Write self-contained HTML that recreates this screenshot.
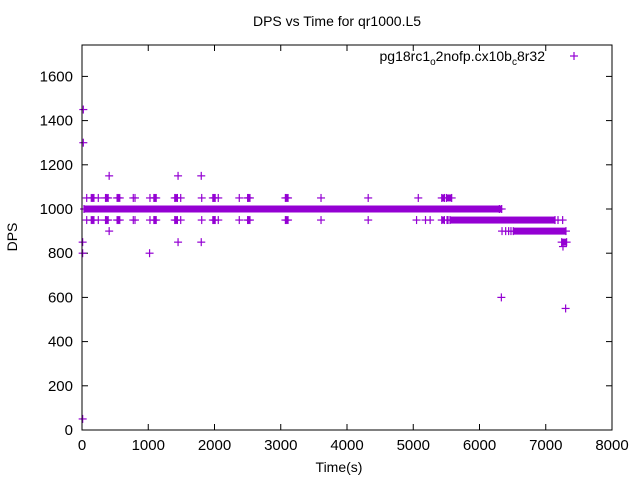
<!DOCTYPE html>
<html><head><meta charset="utf-8"><style>
body{margin:0;background:#fff}
svg{display:block;font-family:"Liberation Sans",sans-serif}
</style></head><body>
<svg id="c" width="640" height="480">
<rect x="0" y="0" width="640" height="480" fill="#fff"/>
<text x="337" y="26" font-size="14" text-anchor="middle">DPS vs Time for qr1000.L5</text>
<text x="339" y="472" font-size="14" text-anchor="middle">Time(s)</text>
<text x="0" y="0" font-size="14" text-anchor="middle" transform="translate(17,237) rotate(-90)">DPS</text>
<g id="axes"></g>
<g id="marks"></g>
<text x="545" y="61" font-size="14" text-anchor="end">pg18rc1<tspan font-size="10" dy="4">o</tspan><tspan dy="-4">2nofp.cx10b</tspan><tspan font-size="10" dy="4">c</tspan><tspan dy="-4">8r32</tspan></text>
<rect x="82" y="45" width="530" height="385" fill="none" stroke="#000" stroke-width="1"/>
</svg>
<script>
const xTicks=[0,1000,2000,3000,4000,5000,6000,7000,8000];
const yTicks=[0,200,400,600,800,1000,1200,1400,1600];
const xTickLabels=["0","1000","2000","3000","4000","5000","6000","7000","8000"];
const yTickLabels=["0","200","400","600","800","1000","1200","1400","1600"];
// continuous runs: start time, end time, dps
const runStart=[30,5555,6510,7240,5430,5500,5430,5510,
 140,355,530,1085,1400,1975,2500,3070,140,355,530,1085,1400,1975,2500,3070];
const runEnd=[6335,7140,7305,7315,5470,5580,5470,5525,
 180,395,570,1120,1440,2010,2535,3110,180,395,570,1120,1440,2010,2535,3110];
const runValue=[1000,950,900,850,1050,1050,950,950,
 1050,1050,1050,1050,1050,1050,1050,1050,950,950,950,950,950,950,950,950];
// individual points
const ptTime=[71,161,246,373,548,774,800,1026,1102,1419,1490,1807,1992,2057,2374,2516,3090,3608,4320,5076,
 71,161,246,373,548,774,800,1026,1102,1419,1490,1807,1992,2057,2374,2516,3090,3608,4320,5050,5185,5255,
 410,1450,1800,410,1450,1800,1020,20,20,10,10,10,6340,6395,6440,6475,6330,7300,6300,7260,7185,7255];
const ptValue=[1050,1050,1050,1050,1050,1050,1050,1050,1050,1050,1050,1050,1050,1050,1050,1050,1050,1050,1050,1050,
 950,950,950,950,950,950,950,950,950,950,950,950,950,950,950,950,950,950,950,950,950,950,
 1150,1150,1150,900,850,850,800,1450,1300,850,800,50,900,900,900,900,600,550,1000,830,950,950];
const X0=82,X1=612,Y0=430,Ytop=45;
const xs=v=>X0+(v/8000)*(X1-X0);
const ys=v=>Y0-(v/1000)*221;
const NS="http://www.w3.org/2000/svg";
const ax=document.getElementById('axes'),mk=document.getElementById('marks');
function ln(p,x1,y1,x2,y2,c,w){const l=document.createElementNS(NS,'line');l.setAttribute('x1',x1);l.setAttribute('y1',y1);l.setAttribute('x2',x2);l.setAttribute('y2',y2);l.setAttribute('stroke',c);l.setAttribute('stroke-width',w);p.appendChild(l);return l;}
xTicks.forEach((t,i)=>{const x=xs(t);
 const a=ln(ax,x,Y0,x,Y0-6,'#000',1);
 
 
 const b=ln(ax,x,Ytop,x,Ytop+6,'#000',1);
 
 
 const tx=document.createElementNS(NS,'text');tx.setAttribute('x',x);tx.setAttribute('y',Y0+20);tx.setAttribute('font-size','15');tx.setAttribute('text-anchor','middle');tx.textContent=xTickLabels[i];
 
 
 ax.appendChild(tx);});
yTicks.forEach((t,i)=>{const y=ys(t);
 const a=ln(ax,X0,y,X0+6,y,'#000',1);
 
 
 const b=ln(ax,X1,y,X1-6,y,'#000',1);
 
 
 const tx=document.createElementNS(NS,'text');tx.setAttribute('x',X0-9);tx.setAttribute('y',y+5);tx.setAttribute('font-size','15');tx.setAttribute('text-anchor','end');tx.textContent=yTickLabels[i];
 
 
 ax.appendChild(tx);});
const C='#9400d3';
function plus(x,y,name){const g=document.createElementNS(NS,'g');
 ln(g,x-4,y,x+4,y,C,1.2);ln(g,x,y-4,x,y+4,C,1.2);
 
 
 mk.appendChild(g);}
runStart.forEach((s,i)=>{const x1=xs(s),x2=xs(runEnd[i]),y=ys(runValue[i]);
 const r=document.createElementNS(NS,'rect');r.setAttribute('x',x1);r.setAttribute('y',y-3.5);r.setAttribute('width',Math.max(x2-x1,1));r.setAttribute('height',7);r.setAttribute('fill',C);
 
 
 mk.appendChild(r);
 plus(x1,y,'run-start-point');plus(x2,y,'run-end-point');});
ptTime.forEach((t,i)=>plus(xs(t),ys(ptValue[i]),'data-point'));
plus(574,56,'legend-marker');
</script>
</body></html>
